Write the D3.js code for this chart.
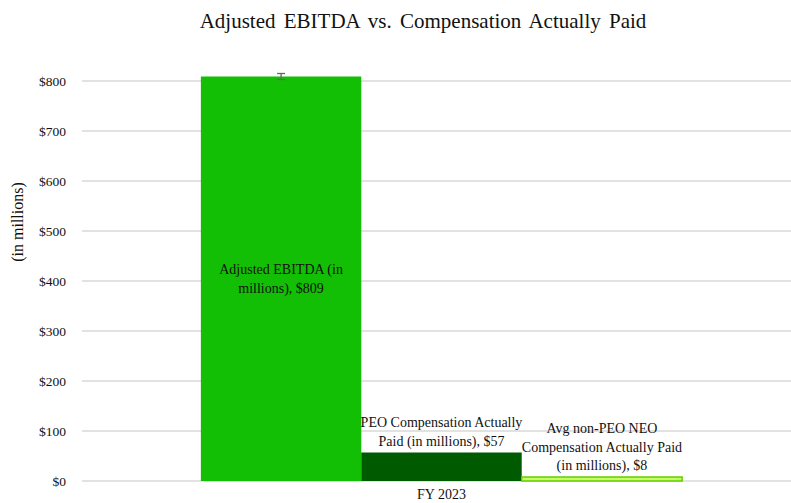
<!DOCTYPE html>
<html>
<head>
<meta charset="utf-8">
<script src="https://cdn.jsdelivr.net/npm/d3@7"></script>
<style>
  body { margin: 0; background: #fff; }
  svg text { font-family: 'Times New Roman', 'Liberation Serif', 'DejaVu Serif', serif; fill: #111; }
</style>
</head>
<body>
<div id="chart"></div>
<script>
var categories = ["FY 2023"];
var seriesNames = ["Adjusted EBITDA (in millions)", "PEO Compensation Actually Paid (in millions)", "Avg non-PEO NEO Compensation Actually Paid (in millions)"];
var seriesValues = [809, 57, 8];
var seriesColors = ["#12bf04", "#005a00", "#c6ff6a"];
var seriesStroke = ["none", "none", "#66cc00"];
// label lines as drawn in the chart
var labelLines = [
  ["Adjusted EBITDA  (in", "millions),  $809"],
  ["PEO Compensation Actually", "Paid (in millions),  $57"],
  ["Avg non-PEO NEO", "Compensation Actually  Paid", "(in millions),  $8"]
];
var errLow = [803, null, null];
var errHigh = [815, null, null];
var yTicks = [0, 100, 200, 300, 400, 500, 600, 700, 800];

var width = 791, height = 503;
var margin = {left: 82, right: -10, top: 81, bottom: 22};
var serif = "'Times New Roman', 'Liberation Serif', serif";

var svg = d3.select("#chart").append("svg").attr("width", width).attr("height", height)
  .attr("font-family", serif);

var x0 = d3.scaleBand().domain(categories).range([margin.left, width - margin.right]).paddingOuter(0.247).paddingInner(0);
var x1 = d3.scaleBand().domain(d3.range(seriesValues.length)).range([0, x0.bandwidth()]);
var y = d3.scaleLinear().domain([0, 800]).range([height - margin.bottom, margin.top]);

// gridlines
svg.append("g").selectAll("line").data(yTicks).enter().append("line")
  .attr("x1", margin.left).attr("x2", width)
  .attr("y1", function(d){ return y(d); }).attr("y2", function(d){ return y(d); })
  .style("stroke", "#d9d9d9").style("stroke-width", 1.3);

// y tick labels
svg.append("g").selectAll("text").data(yTicks).enter().append("text")
  .attr("x", 66).attr("y", function(d){ return y(d) + 4.5; })
  .attr("text-anchor", "end").style("font-size", "13.5px")
  .text(function(d){ return "$" + d; });

// bars
var g = svg.append("g").attr("transform", "translate(" + x0(categories[0]) + ",0)");
g.selectAll("rect").data(seriesValues).enter().append("rect")
  .attr("x", function(d, i){ return x1(i); })
  .attr("y", function(d){ return y(d); })
  .attr("width", x1.bandwidth())
  .attr("height", function(d){ return y(0) - y(d); })
  .style("fill", function(d, i){ return seriesColors[i]; })
  .style("stroke", function(d, i){ return seriesStroke[i]; })
  .style("stroke-width", 1.5);

// error bar on first series
seriesValues.forEach(function(v, i){
  if (errLow[i] === null) return;
  var cx = x1(i) + x1.bandwidth() / 2;
  var eg = g.append("g").style("stroke", "#666").style("stroke-width", 1.3);
  eg.append("line").attr("x1", cx).attr("x2", cx).attr("y1", y(errHigh[i])).attr("y2", y(errLow[i]));
  eg.append("line").attr("x1", cx - 4).attr("x2", cx + 4).attr("y1", y(errHigh[i])).attr("y2", y(errHigh[i]));
  eg.append("line").attr("x1", cx - 4).attr("x2", cx + 4).attr("y1", y(errLow[i])).attr("y2", y(errLow[i]));
});

// data labels
var lineH = 18.5;
labelLines.forEach(function(lines, i){
  var cx = x1(i) + x1.bandwidth() / 2;
  var startY;
  if (i === 0) {
    var mid = (y(seriesValues[i]) + y(0)) / 2;
    startY = mid - (lines.length - 1) * lineH / 2 + 4.5;
  } else {
    startY = y(seriesValues[i]) - 7 - (lines.length - 1) * lineH;
  }
  var t = g.append("text").attr("text-anchor", "middle").style("font-size", "14px");
  lines.forEach(function(l, j){
    t.append("tspan").attr("x", cx).attr("y", startY + j * lineH).text(l);
  });
});

// x category label
svg.append("g").selectAll("text").data(categories).enter().append("text")
  .attr("x", function(d){ return x0(d) + x0.bandwidth() / 2; })
  .attr("y", 499).attr("text-anchor", "middle").style("font-size", "14px")
  .text(function(d){ return d; });

// axis title
svg.append("text").attr("transform", "translate(23,222)rotate(-90)")
  .attr("text-anchor", "middle").style("font-size", "16px").text("(in millions)");

// chart title
svg.append("text").attr("x", 423).attr("y", 28).attr("text-anchor", "middle")
  .style("font-size", "21px").style("word-spacing", "3px")
  .text("Adjusted EBITDA vs. Compensation Actually Paid");
</script>
</body>
</html>
